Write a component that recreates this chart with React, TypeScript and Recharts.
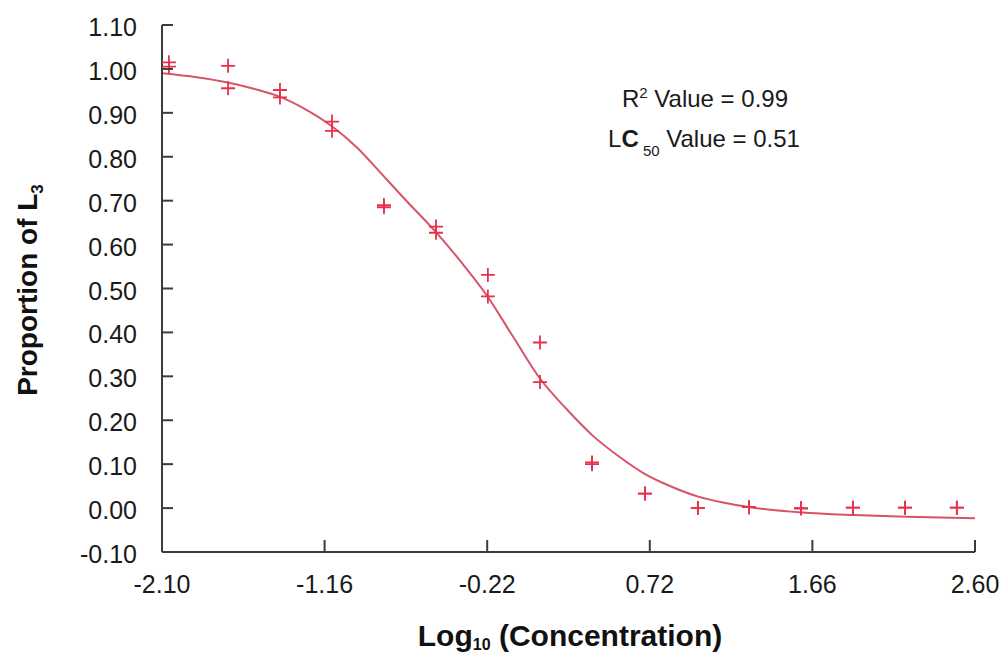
import { ComposedChart, Line, Scatter, XAxis, YAxis } from "recharts";

// log10 concentrations of the test wells, two replicates each
const CONC_X = [-2.06, -1.718, -1.418, -1.117, -0.817, -0.516, -0.216, 0.085, 0.386, 0.692, 0.998, 1.293, 1.594, 1.894, 2.195, 2.495];
const REP_A = [1.015, 1.007, 0.952, 0.88, 0.69, 0.641, 0.531, 0.377, 0.104, 0.033, 0.0, 0.002, 0.0, 0.001, 0.001, 0.001];
const REP_B = [1.005, 0.956, 0.935, 0.859, 0.685, 0.627, 0.482, 0.287, 0.1, 0.033, 0.0, 0.002, -0.001, 0.001, 0.001, 0.001];

// fitted dose-response curve
const FIT_X = [-2.1, -1.9, -1.72, -1.57, -1.42, -1.27, -1.12, -0.97, -0.84, -0.7, -0.52, -0.37, -0.22, -0.07, 0.085, 0.24, 0.39, 0.54, 0.69, 0.85, 1.0, 1.15, 1.3, 1.6, 1.9, 2.2, 2.6];
const FIT_Y = [0.99, 0.981, 0.969, 0.955, 0.937, 0.908, 0.87, 0.82, 0.765, 0.705, 0.63, 0.56, 0.483, 0.39, 0.295, 0.225, 0.165, 0.118, 0.078, 0.048, 0.026, 0.012, 0.002, -0.01, -0.016, -0.02, -0.023];

const X_TICKS = [-2.1, -1.16, -0.22, 0.72, 1.66, 2.6];
const Y_TICKS = [-0.1, 0, 0.1, 0.2, 0.3, 0.4, 0.5, 0.6, 0.7, 0.8, 0.9, 1.0, 1.1];

const repA = CONC_X.map((x, i) => ({ x, y: REP_A[i] }));
const repB = CONC_X.map((x, i) => ({ x, y: REP_B[i] }));
const fit = FIT_X.map((x, i) => ({ x, fit: FIT_Y[i] }));

const AXIS = "#3c3c3c";
const MARK = "#e8304c";
const CURVE = "#d65468";
const FONT = "'Liberation Sans', Arial, Helvetica, sans-serif";

function YTick({ x, y, payload }: any) {
  return (
    <g>
      <line x1={x} x2={x + 11} y1={y} y2={y} stroke={AXIS} strokeWidth={2} />
      <text x={x - 25} y={y + 11} textAnchor="end" fontSize={25} fill="#1a1a1a" fontFamily={FONT}>
        {Number(payload.value).toFixed(2)}
      </text>
    </g>
  );
}

function XTick({ x, y, payload }: any) {
  return (
    <g>
      <line x1={x} x2={x} y1={y} y2={y - 12} stroke={AXIS} strokeWidth={2} />
      <text x={x} y={y + 41} textAnchor="middle" fontSize={25} fill="#1a1a1a" fontFamily={FONT}>
        {Number(payload.value).toFixed(2)}
      </text>
    </g>
  );
}

function Plus({ cx, cy }: any) {
  if (cx == null || cy == null) return null;
  return (
    <path
      d={`M${cx - 7},${cy} H${cx + 7} M${cx},${cy - 7} V${cy + 7}`}
      stroke={MARK}
      strokeWidth={1.8}
      fill="none"
    />
  );
}

export default function App() {
  return (
    <div style={{ position: "absolute", left: 0, top: 0, width: 1004, height: 656, background: "#fff" }}>
      <ComposedChart width={1004} height={656} margin={{ top: 25, right: 29, bottom: 0, left: 0 }}>
        <XAxis
          type="number"
          dataKey="x"
          domain={[-2.1, 2.6]}
          ticks={X_TICKS}
          allowDataOverflow
          height={104}
          tickSize={0}
          tickMargin={0}
          tickLine={false}
          axisLine={{ stroke: AXIS, strokeWidth: 2 }}
          tick={<XTick />}
          interval={0}
        />
        <YAxis
          type="number"
          domain={[-0.1, 1.1]}
          ticks={Y_TICKS}
          allowDataOverflow
          width={162}
          tickSize={0}
          tickMargin={0}
          tickLine={false}
          axisLine={{ stroke: AXIS, strokeWidth: 2 }}
          tick={<YTick />}
          interval={0}
        />
        <Line
          data={fit}
          dataKey="fit"
          type="monotone"
          stroke={CURVE}
          strokeWidth={2}
          dot={false}
          activeDot={false}
          isAnimationActive={false}
        />
        <Scatter data={repA} dataKey="y" shape={<Plus />} isAnimationActive={false} />
        <Scatter data={repB} dataKey="y" shape={<Plus />} isAnimationActive={false} />
      </ComposedChart>

      <svg
        width={1004}
        height={656}
        style={{ position: "absolute", left: 0, top: 0, pointerEvents: "none" }}
        fontFamily={FONT}
      >
        <text transform="translate(37,290) rotate(-90)" textAnchor="middle" fontSize={28} fontWeight="bold" fill="#111">
          Proportion of L
          <tspan fontSize={17} dy={6}>3</tspan>
        </text>
        <text x={570} y={646} textAnchor="middle" fontSize={30} fontWeight="bold" fill="#111">
          Log
          <tspan fontSize={16} dy={4}>10</tspan>
          <tspan dy={-4}> (Concentration)</tspan>
        </text>
        <text x={705} y={107} textAnchor="middle" fontSize={24} fill="#1a1a1a">
          R<tspan fontSize={15} dy={-9}>2</tspan>
          <tspan dy={9}> Value = 0.99</tspan>
        </text>
        <text x={704} y={147} textAnchor="middle" fontSize={24} fill="#1a1a1a">
          L<tspan fontWeight="bold">C</tspan>
          <tspan fontSize={15} dy={9}> 50</tspan>
          <tspan dy={-9}> Value = 0.51</tspan>
        </text>
      </svg>
    </div>
  );
}
